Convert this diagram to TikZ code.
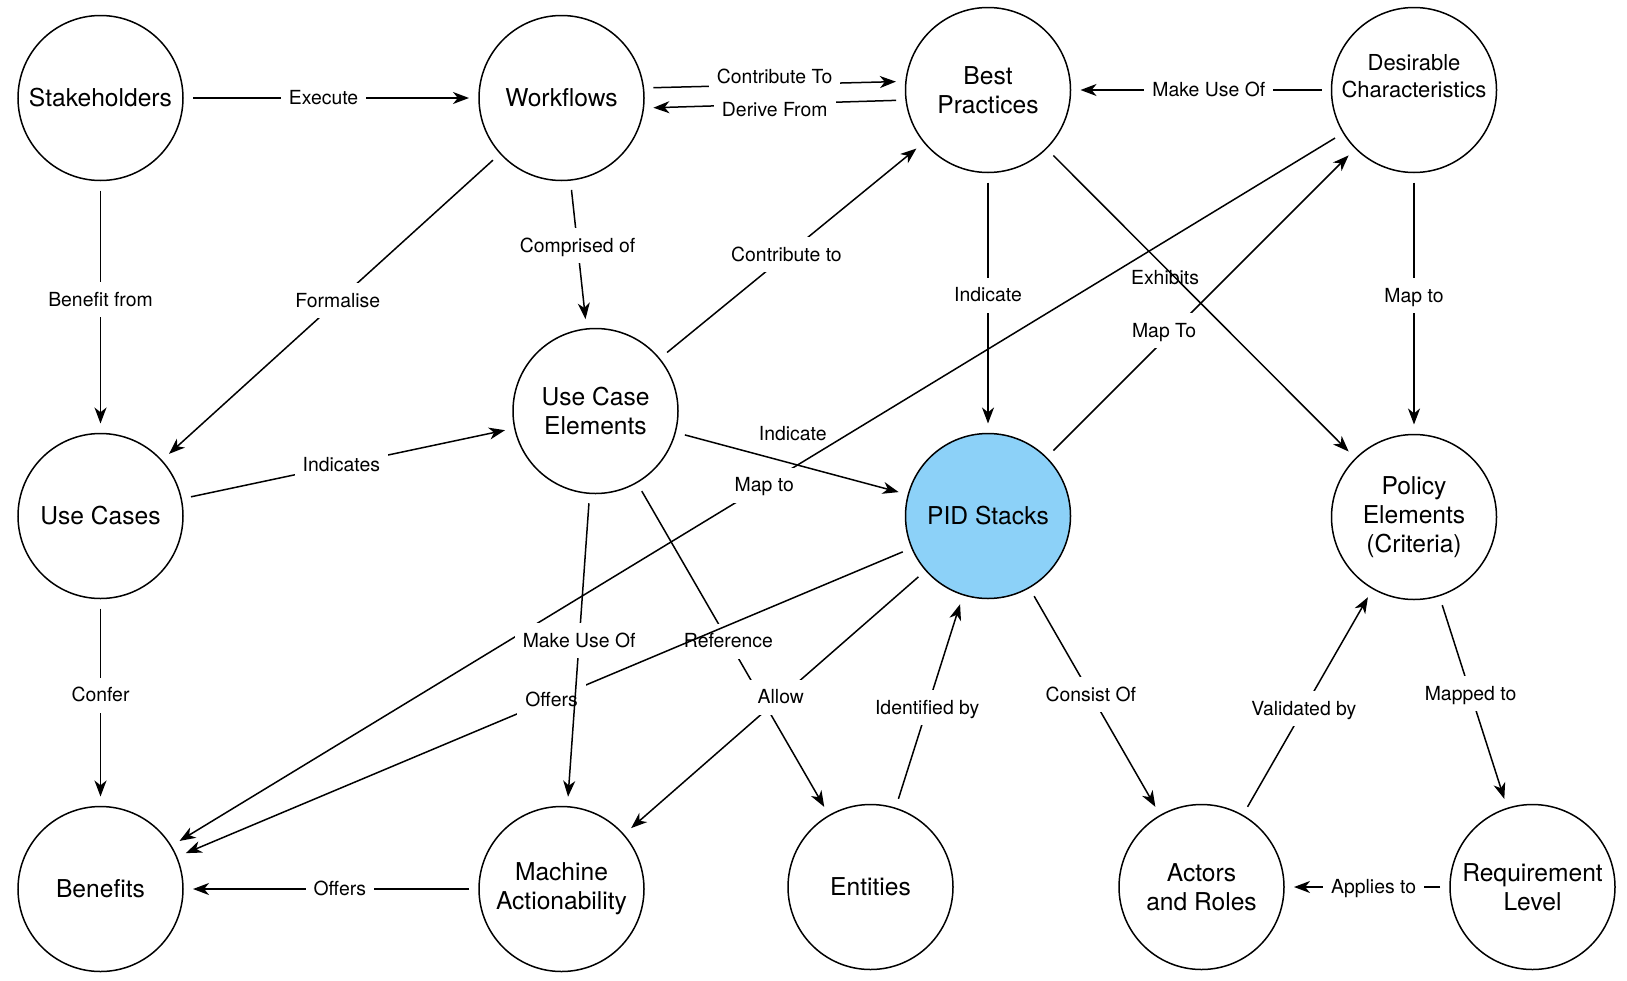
\documentclass[tikz,border=0pt]{standalone}
\usepackage{fontspec}
\setmainfont{TeX Gyre Heros}
\usetikzlibrary{arrows.meta}
\definecolor{pidblue}{RGB}{140,209,248}
\begin{document}
\begin{tikzpicture}[x=0.5pt,y=-0.5pt,
  concept/.style={circle,draw,line width=0.75pt,minimum size=82.5pt,
    inner sep=0pt,outer sep=0pt,align=center,
    font=\fontsize{12.3}{14.5}\selectfont},
  edge/.style={line width=0.75pt,shorten <=5pt,shorten >=5pt,
    -{Stealth[length=8pt,width=6pt,inset=2.4pt]}},
  lab/.style={fill=white,inner xsep=4pt,inner ysep=4pt,
    text height=8.1pt,text depth=1.4pt,font=\fontsize{9.7}{11.6}\selectfont},
  freelab/.style={inner sep=0pt,font=\fontsize{9.7}{11.6}\selectfont}]
\useasboundingbox (0,0) rectangle (1627,980);

% concepts
\node[concept] (sh)  at (100.5,98)  {Stakeholders};
\node[concept] (wf)  at (561.5,98)  {Workflows};
\node[concept] (bp)  at (988,90)    {Best\\Practices};
\node[concept,font=\fontsize{11}{13.5}\selectfont] (dc) at (1414,90) {Desirable\\Characteristics\\[-4pt]\strut};
\node[concept] (uc)  at (100.5,516) {Use Cases};
\node[concept] (uce) at (595.5,411) {Use Case\\Elements};
\node[concept,fill=pidblue] (pid) at (988,516) {PID Stacks};
\node[concept] (pe)  at (1414,517)  {Policy\\Elements\\(Criteria)};
\node[concept] (ben) at (100.5,889) {Benefits};
\node[concept] (ma)  at (561.5,889) {Machine\\Actionability};
\node[concept] (ent) at (870.5,887) {Entities};
\node[concept] (ar)  at (1201.5,887) {Actors\\and Roles};
\node[concept] (rl)  at (1532.5,887) {Requirement\\Level};

% relations
\draw[edge] (sh) -- node[lab,pos=.475]{Execute} (wf);
\draw[edge] (wf.7) -- node[lab,yshift=4pt]{Contribute To} (bp.174);
\draw[edge] (bp.-173) -- node[lab,yshift=-3pt]{Derive From} (wf.-7);
\draw[edge] (dc) -- node[lab,pos=.47]{Make Use Of} (bp);
\draw[edge] (sh) -- node[lab,pos=.47]{Benefit from} (uc);
\draw[edge] (wf) -- node[lab,pos=.48]{Formalise} (uc);
\draw[edge] (wf) -- node[lab,pos=.44]{Comprised of} (uce);
\draw[edge] (uce) -- node[lab,pos=.48]{Contribute to} (bp);
\draw[edge] (bp) -- node[lab,pos=.47]{Indicate} (pid);
\draw[edge] (dc) -- node[lab,pos=.47]{Map to} (pe);
\draw[edge] (uc) -- node[lab,pos=.48]{Indicates} (uce);
\draw[edge] (uce) -- node[freelab,pos=.47,xshift=4pt,yshift=14pt]{Indicate} (pid);
\draw[edge] (bp) -- node[freelab,pos=.4,xshift=-2.5pt,yshift=-2.5pt]{Exhibits} (pe);
\draw[edge] (pid) -- node[lab,pos=.4,xshift=-3pt,yshift=1.5pt]{Map To} (dc);
\draw[edge] (ent) -- node[lab,pos=.47]{Identified by} (pid);
\draw[edge] (pid) -- node[lab,pos=.47]{Consist Of} (ar);
\draw[edge] (ar) -- node[lab,pos=.47]{Validated by} (pe);
\draw[edge] (pe) -- node[lab,pos=.46]{Mapped to} (rl);
\draw[edge] (rl) -- node[lab,pos=.46]{Applies to} (ar);
\draw[edge] (ma) -- node[lab,pos=.47]{Offers} (ben);
\draw[edge] (uc) -- node[lab,pos=.465]{Confer} (ben);
% crossing relations, drawn in stacking order
\draw[edge] (uce) -- node[lab,pos=.476]{Reference} (ent);
\draw[edge] (dc) -- node[lab,pos=.494]{Map to} (ben);
\draw[edge] (pid) -- node[lab,pos=.49]{Offers} (ben);
\draw[edge] (uce) -- node[lab,pos=.47]{Make Use Of} (ma);
\draw[edge] (pid) -- node[lab,pos=.48]{Allow} (ma);
\end{tikzpicture}
\end{document}
